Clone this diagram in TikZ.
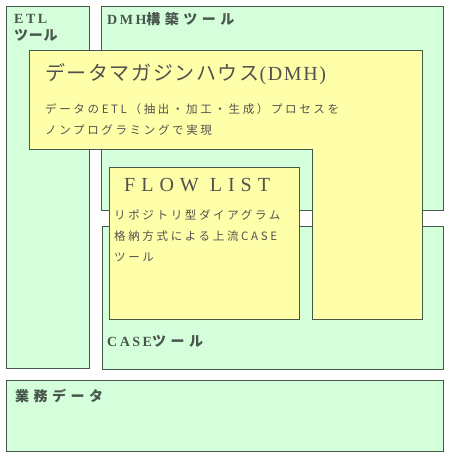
\documentclass[tikz,border=0pt]{standalone}
\usepackage{fontspec}
\setmainfont{Liberation Serif}
\newfontfamily\jp[LetterSpace=32]{Noto Sans CJK JP}
\newfontfamily\jpnarrow[LetterSpace=5]{Noto Sans CJK JP}
\newfontfamily\jptitle[LetterSpace=8]{Noto Sans CJK JP}
\newfontfamily\jpsmall[LetterSpace=23]{Noto Sans CJK JP}
\newfontfamily\lat[LetterSpace=18]{Liberation Serif}
\newfontfamily\lattitle[LetterSpace=8]{Liberation Serif}
\newfontfamily\latflow[LetterSpace=30]{Liberation Serif}
\usetikzlibrary{calc}
\definecolor{mint}{RGB}{212,255,218}
\definecolor{lemon}{RGB}{255,255,170}
\definecolor{edge}{RGB}{70,88,76}
\definecolor{ink}{RGB}{72,86,78}
\definecolor{greyink}{RGB}{82,82,78}
\newcommand{\cellG}[4]{ \filldraw[fill=mint, draw=edge, line width=1pt] ( #1 , #2 ) rectangle ( #3 , #4 );}
\newcommand{\cellY}[4]{ \filldraw[fill=lemon, draw=edge, line width=1pt] ( #1 , #2 ) rectangle ( #3 , #4 );}
\tikzset{
  boxtitle/.style={anchor=base west, inner sep=0pt, text=ink, align=left, font=\fontsize{14}{17}\selectfont\bfseries},
  bodytext/.style={anchor=base west, inner sep=0pt, text=greyink, align=left, font=\fontsize{11.5}{21}\selectfont\jpsmall}
}
\begin{document}
\begin{tikzpicture}[x=1pt, y=-1pt]
        \useasboundingbox (0,0) rectangle (450,460);
        % tools
        \cellG{6}{7}{89}{368}
        \cellG{101}{7}{443}{210}
        \cellG{102}{226}{443}{369}
        \cellG{6}{380}{443}{451}
        % dmh
        \filldraw[fill=lemon, draw=edge, line width=1pt] (29,51) -- (422,51) -- (422,319) -- (312,319) -- (312,149) -- (29,149) -- cycle;
        \cellY{109}{167}{299}{319}
        % labels (multi-line nodes sit on their last baseline)
        \node[boxtitle] (etl) at (14,41) {{\lat ETL}\\{\jpnarrow ツール}};
        \node[boxtitle] (dmhtool) at (107,25) {{\lat DMH}{\jp 構築ツール}};
        \node[boxtitle] (casetool) at (107,346) {{\lat CASE}{\jp ツール}};
        \node[boxtitle] (bizdata) at (15,401) {{\jp 業務データ}};
        % dmh text
        \node[anchor=base west, inner sep=0pt, text=greyink, font=\fontsize{20}{24}\selectfont] (dmh) at (45,80) {{\jptitle データマガジンハウス}{\lattitle (DMH)}};
        \node[bodytext] (dmhdesc) at (45,134) {データのETL（抽出・加工・生成）プロセスを\\ノンプログラミングで実現};
        % flow list
        \node[anchor=base west, inner sep=0pt, text=greyink, font=\fontsize{20}{24}\selectfont\latflow] (flow) at (124,191) {FLOW LIST};
        \node[bodytext] (flowdesc) at (114,261) {リポジトリ型ダイアグラム\\格納方式による上流CASE\\ツール};
    \end{tikzpicture}
\end{document}
